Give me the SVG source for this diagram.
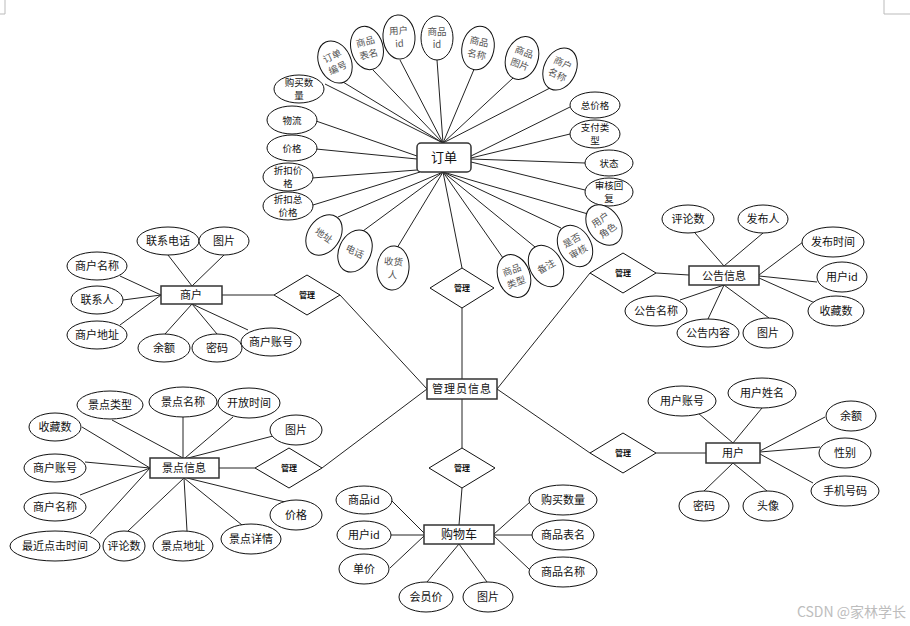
<svg xmlns="http://www.w3.org/2000/svg" width="910" height="626" viewBox="0 0 910 626">
<style>
text{font-family:"Noto Sans CJK SC","Liberation Sans",sans-serif;font-size:11px;fill:#111;text-anchor:middle}
.e{fill:#fff;stroke:#111;stroke-width:1}
.r{fill:#fff;stroke:#333;stroke-width:1.5}
.d{fill:#fff;stroke:#111;stroke-width:1}
.dl{font-size:8px;font-weight:bold}
.rt{font-size:9.5px;fill:#555}
.sm{font-size:9.5px}
.big{font-size:12px}
#conn line{stroke:#222;stroke-width:1}
.mark{stroke:#bbb;stroke-width:1;fill:none}
</style>
<rect width="910" height="626" fill="#fff"/>
<path class="mark" d="M5,0V14H0M884,0V14H910"/>
<g id="conn">
<line x1="325" y1="84" x2="443" y2="143"/>
<line x1="343" y1="82" x2="443" y2="143"/>
<line x1="373" y1="70" x2="443" y2="143"/>
<line x1="400" y1="60" x2="443" y2="143"/>
<line x1="437" y1="60" x2="443" y2="143"/>
<line x1="475" y1="67" x2="443" y2="143"/>
<line x1="513" y1="78" x2="443" y2="143"/>
<line x1="550" y1="88" x2="443" y2="143"/>
<line x1="316" y1="121" x2="417" y2="156"/>
<line x1="316" y1="149" x2="417" y2="159"/>
<line x1="312" y1="178" x2="417" y2="170"/>
<line x1="313" y1="205" x2="420" y2="172"/>
<line x1="570" y1="107" x2="471" y2="156"/>
<line x1="570" y1="134" x2="471" y2="158"/>
<line x1="585" y1="163" x2="471" y2="159"/>
<line x1="585" y1="190" x2="471" y2="162"/>
<line x1="338" y1="217" x2="443" y2="172"/>
<line x1="363" y1="231" x2="443" y2="172"/>
<line x1="397" y1="248" x2="443" y2="172"/>
<line x1="503" y1="258" x2="443" y2="172"/>
<line x1="535" y1="247" x2="443" y2="172"/>
<line x1="561" y1="228" x2="443" y2="172"/>
<line x1="588" y1="214" x2="443" y2="172"/>
<line x1="443" y1="172" x2="462" y2="268"/>
<line x1="462" y1="308" x2="462" y2="379"/>
<line x1="340" y1="295" x2="427" y2="389"/>
<line x1="322" y1="468" x2="427" y2="389"/>
<line x1="590" y1="273" x2="497" y2="389"/>
<line x1="590" y1="453" x2="497" y2="389"/>
<line x1="462" y1="399" x2="462" y2="448"/>
<line x1="462" y1="488" x2="459" y2="525"/>
<line x1="222" y1="295" x2="274" y2="295"/>
<line x1="168" y1="255" x2="192" y2="286"/>
<line x1="224" y1="255" x2="192" y2="286"/>
<line x1="120" y1="276" x2="161" y2="295"/>
<line x1="123" y1="300" x2="161" y2="295"/>
<line x1="120" y1="325" x2="161" y2="295"/>
<line x1="165" y1="334" x2="192" y2="304"/>
<line x1="217" y1="334" x2="192" y2="304"/>
<line x1="248" y1="330" x2="192" y2="304"/>
<line x1="656" y1="273" x2="689" y2="275"/>
<line x1="695" y1="233" x2="724" y2="266"/>
<line x1="763" y1="233" x2="724" y2="266"/>
<line x1="803" y1="242" x2="759" y2="275"/>
<line x1="817" y1="282" x2="759" y2="276"/>
<line x1="815" y1="303" x2="759" y2="278"/>
<line x1="680" y1="300" x2="724" y2="285"/>
<line x1="708" y1="319" x2="724" y2="285"/>
<line x1="769" y1="318" x2="724" y2="285"/>
<line x1="219" y1="468" x2="255" y2="468"/>
<line x1="112" y1="420" x2="183" y2="458"/>
<line x1="183" y1="417" x2="183" y2="458"/>
<line x1="233" y1="417" x2="185" y2="458"/>
<line x1="273" y1="436" x2="188" y2="458"/>
<line x1="82" y1="427" x2="150" y2="468"/>
<line x1="85" y1="462" x2="150" y2="468"/>
<line x1="80" y1="495" x2="150" y2="468"/>
<line x1="90" y1="534" x2="150" y2="468"/>
<line x1="128" y1="531" x2="184" y2="478"/>
<line x1="187" y1="531" x2="184" y2="478"/>
<line x1="242" y1="525" x2="184" y2="478"/>
<line x1="285" y1="502" x2="187" y2="478"/>
<line x1="656" y1="453" x2="706" y2="453"/>
<line x1="698" y1="413" x2="733" y2="443"/>
<line x1="762" y1="408" x2="733" y2="443"/>
<line x1="825" y1="417" x2="760" y2="451"/>
<line x1="820" y1="447" x2="760" y2="452"/>
<line x1="813" y1="483" x2="760" y2="454"/>
<line x1="704" y1="491" x2="733" y2="463"/>
<line x1="767" y1="491" x2="733" y2="463"/>
<line x1="391" y1="500" x2="424" y2="533"/>
<line x1="391" y1="535" x2="424" y2="535"/>
<line x1="390" y1="568" x2="424" y2="536"/>
<line x1="427" y1="582" x2="459" y2="544"/>
<line x1="487" y1="582" x2="459" y2="544"/>
<line x1="530" y1="502" x2="494" y2="534"/>
<line x1="532" y1="535" x2="494" y2="535"/>
<line x1="529" y1="569" x2="494" y2="536"/>
</g>

<g id="order"><rect x="417" y="143" width="54" height="29" rx="4" class="r"/><text x="444" y="162" style="font-size:13px">订单</text></g>
<g id="o-gmsl"><ellipse cx="299" cy="89" rx="25" ry="14" class="e"/><text x="299" y="86" class="sm">购买数</text><text x="299" y="99" class="sm">量</text></g>
<g id="o-wl"><ellipse cx="292" cy="120" rx="25" ry="14" class="e"/><text x="292" y="124" class="sm">物流</text></g>
<g id="o-jg"><ellipse cx="292" cy="148" rx="25" ry="13" class="e"/><text x="292" y="152" class="sm">价格</text></g>
<g id="o-zkjg"><ellipse cx="288" cy="177" rx="25" ry="14" class="e"/><text x="288" y="174" class="sm">折扣价</text><text x="288" y="187" class="sm">格</text></g>
<g id="o-zkzjg"><ellipse cx="288" cy="206" rx="25" ry="14" class="e"/><text x="288" y="203" class="sm">折扣总</text><text x="288" y="216" class="sm">价格</text></g>
<g id="o-zjg"><ellipse cx="595" cy="105" rx="25" ry="13" class="e"/><text x="595" y="109" class="sm">总价格</text></g>
<g id="o-zflx"><ellipse cx="595" cy="134" rx="25" ry="14" class="e"/><text x="595" y="131" class="sm">支付类</text><text x="595" y="144" class="sm">型</text></g>
<g id="o-zt"><ellipse cx="609" cy="163" rx="24" ry="13" class="e"/><text x="609" y="167" class="sm">状态</text></g>
<g id="o-shhf"><ellipse cx="609" cy="192" rx="24" ry="14" class="e"/><text x="609" y="189" class="sm">审核回</text><text x="609" y="202" class="sm">复</text></g>

<g id="o-ddbh" transform="translate(335,62) rotate(-25)"><ellipse rx="16" ry="22" class="e"/><text y="-3" class="rt">订单</text><text y="10" class="rt">编号</text></g>
<g id="o-spbm" transform="translate(367,48) rotate(-15)"><ellipse rx="16" ry="22" class="e"/><text y="-3" class="rt">商品</text><text y="10" class="rt">表名</text></g>
<g id="o-yhid" transform="translate(399,37) rotate(-4)"><ellipse rx="16" ry="22" class="e"/><text y="-3" class="rt">用户</text><text y="10" class="rt">id</text></g>
<g id="o-spid" transform="translate(437,38)"><ellipse rx="16" ry="22" class="e"/><text y="-3" class="rt">商品</text><text y="10" class="rt">id</text></g>
<g id="o-spmc" transform="translate(478,48) rotate(12)"><ellipse rx="16" ry="22" class="e"/><text y="-3" class="rt">商品</text><text y="10" class="rt">名称</text></g>
<g id="o-sptp" transform="translate(522,58) rotate(20)"><ellipse rx="16" ry="22" class="e"/><text y="-3" class="rt">商品</text><text y="10" class="rt">图片</text></g>
<g id="o-shmc" transform="translate(560,69) rotate(25)"><ellipse rx="16" ry="22" class="e"/><text y="-3" class="rt">商户</text><text y="10" class="rt">名称</text></g>
<g id="o-dz" transform="translate(324,235) rotate(35)"><ellipse rx="16" ry="22" class="e"/><text y="4" class="rt">地址</text></g>
<g id="o-dh" transform="translate(355,251) rotate(25)"><ellipse rx="16" ry="22" class="e"/><text y="4" class="rt">电话</text></g>
<g id="o-shr" transform="translate(393,268) rotate(5)"><ellipse rx="16" ry="22" class="e"/><text y="-3" class="rt">收货</text><text y="10" class="rt">人</text></g>
<g id="o-splx" transform="translate(514,276) rotate(-20)"><ellipse rx="16" ry="22" class="e"/><text y="-3" class="rt">商品</text><text y="10" class="rt">类型</text></g>
<g id="o-bz" transform="translate(546,266) rotate(-30)"><ellipse rx="16" ry="22" class="e"/><text y="4" class="rt">备注</text></g>
<g id="o-sfsh" transform="translate(575,246) rotate(-30)"><ellipse rx="16" ry="22" class="e"/><text y="-3" class="rt">是否</text><text y="10" class="rt">审核</text></g>
<g id="o-yhjs" transform="translate(604,225) rotate(-35)"><ellipse rx="16" ry="22" class="e"/><text y="-3" class="rt">用户</text><text y="10" class="rt">角色</text></g>

<g id="rel-order"><polygon points="462,268 494,288 462,308 430,288" class="d"/><text x="462" y="291" class="dl">管理</text></g>
<g id="rel-merchant"><polygon points="307,275 340,295 307,315 274,295" class="d"/><text x="307" y="298" class="dl">管理</text></g>
<g id="rel-notice"><polygon points="623,253 656,273 623,293 590,273" class="d"/><text x="623" y="276" class="dl">管理</text></g>
<g id="rel-spot"><polygon points="289,448 322,468 289,488 255,468" class="d"/><text x="289" y="471" class="dl">管理</text></g>
<g id="rel-user"><polygon points="623,433 656,453 623,473 590,453" class="d"/><text x="623" y="456" class="dl">管理</text></g>
<g id="rel-cart"><polygon points="462,448 495,468 462,488 429,468" class="d"/><text x="462" y="471" class="dl">管理</text></g>

<g id="admin"><rect x="427" y="379" width="70" height="20" class="r"/><text x="462" y="393" style="letter-spacing:1px">管理员信息</text></g>

<g id="merchant"><rect x="161" y="286" width="61" height="18" class="r"/><text x="191" y="299">商户</text></g>
<g id="m-lxdh"><ellipse cx="168" cy="241" rx="31" ry="14" class="e"/><text x="168" y="245">联系电话</text></g>
<g id="m-tp"><ellipse cx="224" cy="241" rx="25" ry="14" class="e"/><text x="224" y="245">图片</text></g>
<g id="m-shmc"><ellipse cx="97" cy="266" rx="30" ry="14" class="e"/><text x="97" y="270">商户名称</text></g>
<g id="m-lxr"><ellipse cx="97" cy="300" rx="26" ry="14" class="e"/><text x="97" y="304">联系人</text></g>
<g id="m-shdz"><ellipse cx="97" cy="335" rx="30" ry="14" class="e"/><text x="97" y="339">商户地址</text></g>
<g id="m-ye"><ellipse cx="164" cy="348" rx="26" ry="14" class="e"/><text x="164" y="352">余额</text></g>
<g id="m-mm"><ellipse cx="217" cy="348" rx="25" ry="14" class="e"/><text x="217" y="352">密码</text></g>
<g id="m-shzh"><ellipse cx="271" cy="342" rx="30" ry="14" class="e"/><text x="271" y="346">商户账号</text></g>

<g id="notice"><rect x="689" y="266" width="70" height="19" class="r"/><text x="724" y="280">公告信息</text></g>
<g id="n-pls"><ellipse cx="688" cy="219" rx="26" ry="14" class="e"/><text x="688" y="223">评论数</text></g>
<g id="n-fbr"><ellipse cx="763" cy="219" rx="25" ry="14" class="e"/><text x="763" y="223">发布人</text></g>
<g id="n-fbsj"><ellipse cx="833" cy="242" rx="31" ry="15" class="e"/><text x="833" y="246">发布时间</text></g>
<g id="n-yhid"><ellipse cx="842" cy="277" rx="25" ry="15" class="e"/><text x="842" y="281">用户id</text></g>
<g id="n-scs"><ellipse cx="836" cy="311" rx="28" ry="15" class="e"/><text x="836" y="315">收藏数</text></g>
<g id="n-ggmc"><ellipse cx="656" cy="311" rx="31" ry="15" class="e"/><text x="656" y="315">公告名称</text></g>
<g id="n-ggnr"><ellipse cx="708" cy="333" rx="31" ry="14" class="e"/><text x="708" y="337">公告内容</text></g>
<g id="n-tp"><ellipse cx="768" cy="333" rx="25" ry="15" class="e"/><text x="768" y="337">图片</text></g>

<g id="spot"><rect x="150" y="458" width="69" height="20" class="r"/><text x="184" y="472">景点信息</text></g>
<g id="s-jdlx"><ellipse cx="110" cy="405" rx="33" ry="14" class="e"/><text x="110" y="409">景点类型</text></g>
<g id="s-jdmc"><ellipse cx="183" cy="402" rx="34" ry="15" class="e"/><text x="183" y="406">景点名称</text></g>
<g id="s-kfsj"><ellipse cx="249" cy="403" rx="31" ry="15" class="e"/><text x="249" y="407">开放时间</text></g>
<g id="s-tp"><ellipse cx="296" cy="430" rx="26" ry="15" class="e"/><text x="296" y="434">图片</text></g>
<g id="s-scs"><ellipse cx="55" cy="427" rx="26" ry="14" class="e"/><text x="55" y="431">收藏数</text></g>
<g id="s-shzh"><ellipse cx="55" cy="468" rx="31" ry="14" class="e"/><text x="55" y="472">商户账号</text></g>
<g id="s-shmc"><ellipse cx="55" cy="507" rx="31" ry="14" class="e"/><text x="55" y="511">商户名称</text></g>
<g id="s-zjdjsj"><ellipse cx="55" cy="546" rx="45" ry="15" class="e"/><text x="55" y="550">最近点击时间</text></g>
<g id="s-pls"><ellipse cx="124" cy="546" rx="21" ry="15" class="e"/><text x="124" y="550">评论数</text></g>
<g id="s-jddz"><ellipse cx="183" cy="546" rx="30" ry="15" class="e"/><text x="183" y="550">景点地址</text></g>
<g id="s-jdxq"><ellipse cx="251" cy="539" rx="30" ry="15" class="e"/><text x="251" y="543">景点详情</text></g>
<g id="s-jg"><ellipse cx="296" cy="515" rx="26" ry="15" class="e"/><text x="296" y="519">价格</text></g>

<g id="user"><rect x="706" y="443" width="54" height="20" class="r"/><text x="733" y="457">用户</text></g>
<g id="u-yhzh"><ellipse cx="682" cy="401" rx="34" ry="15" class="e"/><text x="682" y="405">用户账号</text></g>
<g id="u-yhxm"><ellipse cx="762" cy="393" rx="34" ry="15" class="e"/><text x="762" y="397">用户姓名</text></g>
<g id="u-ye"><ellipse cx="851" cy="416" rx="25" ry="15" class="e"/><text x="851" y="420">余额</text></g>
<g id="u-xb"><ellipse cx="845" cy="453" rx="26" ry="15" class="e"/><text x="845" y="457">性别</text></g>
<g id="u-sjhm"><ellipse cx="845" cy="491" rx="34" ry="15" class="e"/><text x="845" y="495">手机号码</text></g>
<g id="u-mm"><ellipse cx="704" cy="506" rx="25" ry="15" class="e"/><text x="704" y="510">密码</text></g>
<g id="u-tx"><ellipse cx="768" cy="506" rx="25" ry="15" class="e"/><text x="768" y="510">头像</text></g>

<g id="cart"><rect x="424" y="525" width="70" height="19" class="r"/><text x="459" y="539" class="big">购物车</text></g>
<g id="c-spid"><ellipse cx="364" cy="500" rx="28" ry="14" class="e"/><text x="364" y="504">商品id</text></g>
<g id="c-yhid"><ellipse cx="364" cy="535" rx="27" ry="14" class="e"/><text x="364" y="539">用户id</text></g>
<g id="c-dj"><ellipse cx="364" cy="569" rx="25" ry="15" class="e"/><text x="364" y="573">单价</text></g>
<g id="c-hyj"><ellipse cx="426" cy="597" rx="27" ry="15" class="e"/><text x="426" y="601">会员价</text></g>
<g id="c-tp"><ellipse cx="488" cy="597" rx="25" ry="15" class="e"/><text x="488" y="601">图片</text></g>
<g id="c-gmsl"><ellipse cx="563" cy="500" rx="34" ry="15" class="e"/><text x="563" y="504">购买数量</text></g>
<g id="c-spbm"><ellipse cx="563" cy="535" rx="31" ry="15" class="e"/><text x="563" y="539">商品表名</text></g>
<g id="c-spmc"><ellipse cx="563" cy="572" rx="34" ry="15" class="e"/><text x="563" y="576">商品名称</text></g>

<text x="906" y="617" style="font-size:14px;fill:#bdbdbd;text-anchor:end">CSDN @家林学长</text>
</svg>
